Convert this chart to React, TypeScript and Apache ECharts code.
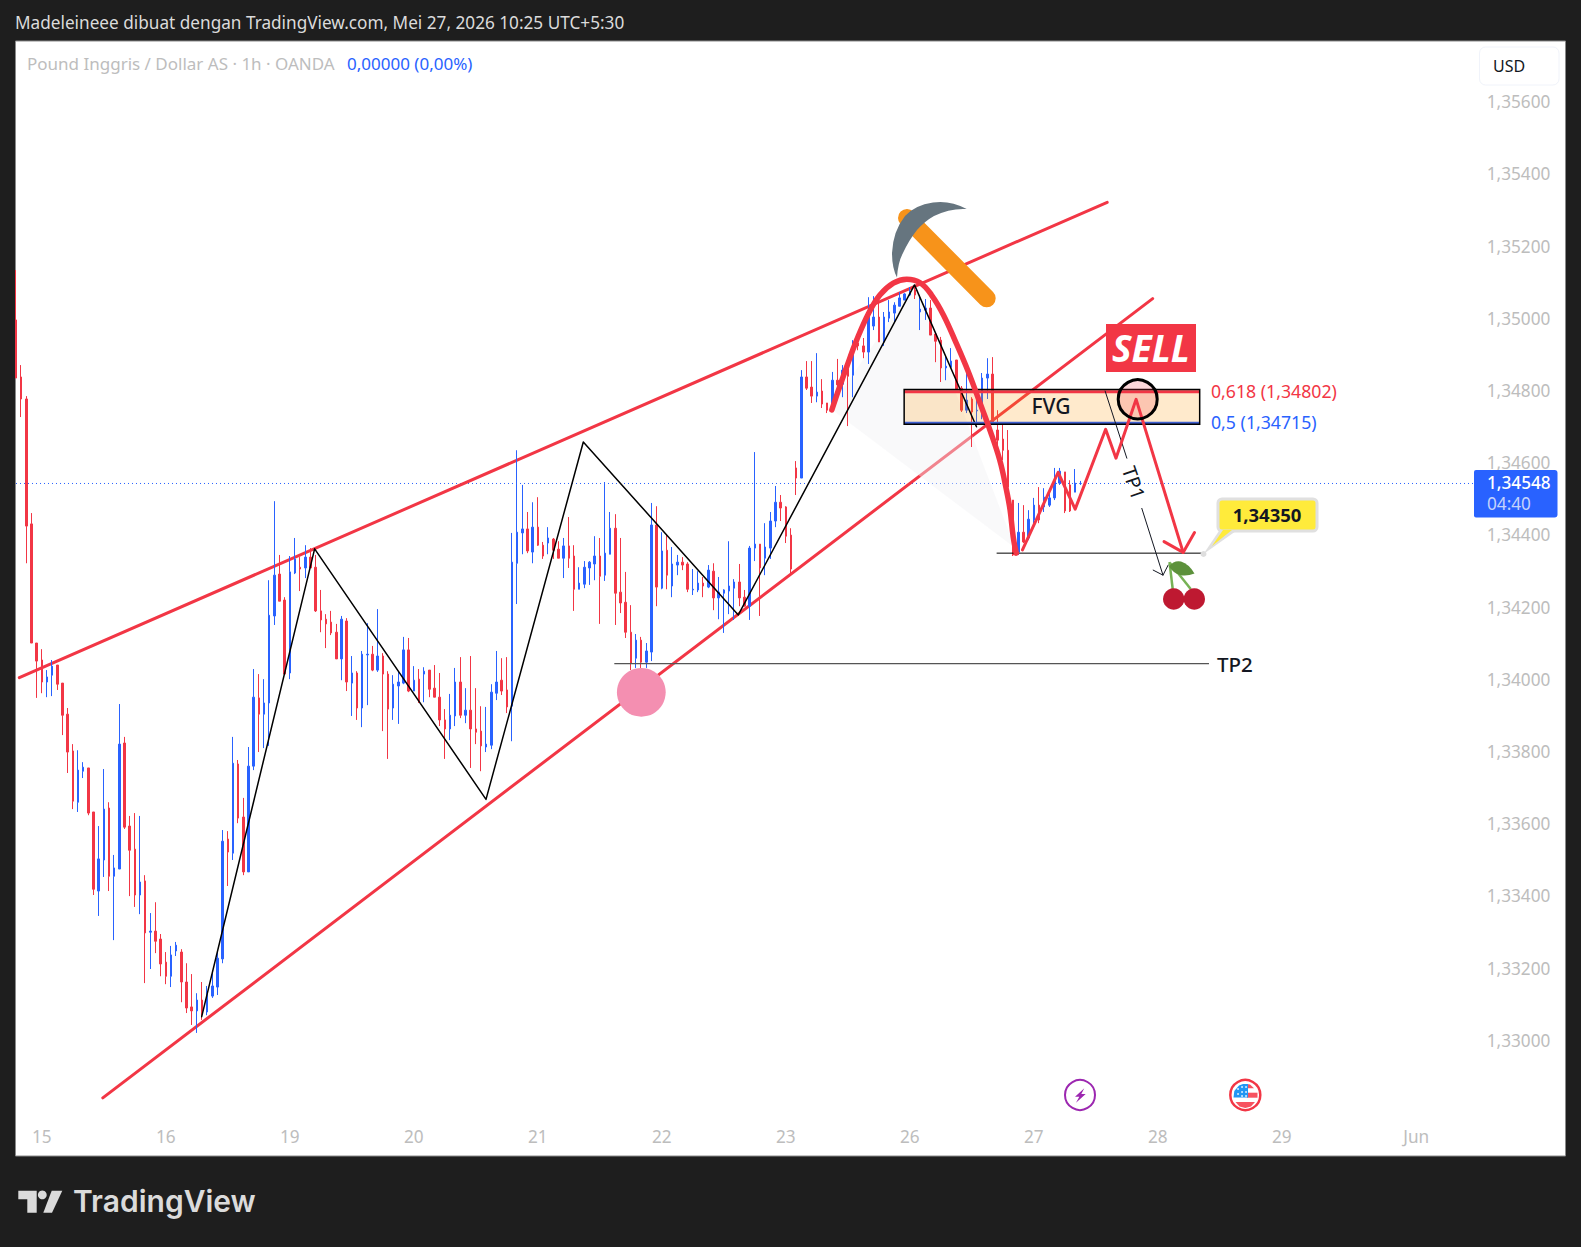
import React, { useEffect, useRef } from "react";
import * as echarts from "echarts";

// Prices are in points (1e-5). Each row: [open, close, low, high]
const POINT = 1e-5;
const session15 = [
  [135001,134840,134840,135139],[134843,134782,134732,134876],[134782,134430,134327,134790],[134436,134106,134106,134466],
  [134106,134056,133954,134106],[134059,133998,133967,134089],[133998,134012,133956,134031],[134017,134042,133959,134059],
  [134045,133992,133976,134045],[133995,133906,133851,133995],[133909,133804,133746,133926],[133807,133668,133646,133826],
  [133665,133754,133638,133809],[133751,133762,133732,133776],[133760,133635,133629,133760],[133638,133424,133408,133638],
  [133419,133508,133350,133599],[133505,133646,133458,133757],[133649,133460,133419,133665],[133460,133483,133283,133519],
  [133480,133826,133480,133937],[133829,133596,133591,133846],[133599,133532,133405,133627],[133535,133408,133375,133635],
  [133408,133444,133355,133627],[133447,133303,133164,133463],[133305,133308,133203,133358],[133308,133280,133247,133388],
  [133286,133217,133183,133300],
];
const session16 = [
  [133222,133183,133161,133250],[133183,133242,133153,133267],[133253,133269,133239,133278],[133250,133167,133111,133258],
  [133167,133095,133081,133219],[133098,133087,133048,133189],[133087,133117,133026,133136],[133117,133084,133062,133167],
  [133084,133134,133075,133156],[133128,133156,133123,133195],[133153,133233,133131,133255],[133231,133557,133219,133588],
  [133563,133527,133433,133585],[133524,133773,133505,133846],[133771,133621,133607,133782],[133624,133472,133463,133677],
  [133472,133765,133472,133818],[133765,133956,133754,134034],[133954,133909,133804,134020],[133909,133940,133815,134006],
  [133940,134183,133821,134280],[134181,134294,134156,134499],[134297,134222,134222,134350],[134225,134020,134020,134233],
];
const session19 = [
  [134023,134303,134006,134347],[134300,134339,134297,134397],[134316,134311,134250,134344],[134314,134344,134286,134377],
  [134344,134314,134314,134369],[134316,134195,134192,134350],[134195,134170,134136,134253],[134172,134159,134092,134186],
  [134164,134134,134128,134195],[134136,134062,134062,134159],[134062,134172,134003,134181],[134167,133998,133973,134175],
  [133995,134023,133904,134070],[134023,133926,133893,134028],[133926,134075,133873,134084],[134073,134075,133934,134161],
  [134075,134031,134028,134098],[134031,134070,134026,134200],[134070,134020,133862,134078],[134020,133923,133785,134028],
  [133926,133992,133893,134017],[133987,133998,133882,134028],[133995,134087,133992,134123],[134087,133973,133970,134120],
];
const session20 = [
  [133973,134003,133973,134042],[134006,133945,133940,134034],[134020,134028,133942,134039],[134031,133978,133956,134031],
  [133981,133956,133956,134045],[133956,133893,133876,134023],[133893,133868,133785,133923],[133868,133906,133837,133965],
  [133904,133998,133876,134037],[133998,133906,133898,134067],[133906,133920,133884,133981],[133920,133868,133760,134070],
  [133868,133859,133826,133981],[133862,133821,133751,133931],[133818,133826,133804,133929],[133823,133970,133812,133992],
  [133967,133998,133948,134084],[134003,133973,133962,134064],[133976,133929,133912,134067],[133931,134330,133834,134411],
  [134327,134413,134214,134640],[134411,134422,134352,134544],[134422,134361,134355,134469],[134358,134427,134327,134496],
];
const session21 = [
  [134427,134377,134375,134510],[134377,134347,134339,134386],[134383,134397,134352,134427],[134394,134363,134339,134397],
  [134366,134341,134341,134388],[134341,134375,134286,134397],[134375,134341,134314,134455],[134347,134255,134195,134377],
  [134255,134272,134255,134316],[134269,134316,134258,134333],[134314,134330,134267,134333],[134325,134347,134280,134402],
  [134347,134291,134159,134397],[134294,134355,134278,134552],[134352,134424,134352,134469],[134424,134244,134156,134463],
  [134247,134217,134189,134397],[134219,134136,134120,134303],[134136,134050,134031,134211],[134064,134114,134037,134131],
  [134114,134053,134037,134123],[134053,134084,134037,134106],[134081,134433,134056,134494],[134433,134261,134208,134485],
];
const session22 = [
  [134258,134361,134255,134413],[134363,134294,134255,134408],[134264,134325,134233,134372],[134322,134330,134294,134350],
  [134330,134322,134308,134344],[134325,134255,134247,134330],[134253,134255,134239,134311],[134253,134272,134247,134305],
  [134272,134264,134233,134289],[134261,134308,134258,134322],[134305,134231,134197,134327],[134231,134247,134172,134289],
  [134244,134253,134134,134255],[134250,134264,134186,134388],[134258,134275,134170,134283],[134275,134231,134208,134325],
  [134233,134208,134208,134253],[134208,134369,134170,134375],[134369,134380,134333,134635],[134380,134314,134181,134380],
  [134341,134372,134294,134438],[134369,134444,134339,134469],[134444,134496,134427,134541],[134496,134480,134444,134516],
];
const session23 = [
  [134483,134402,134383,134485],[134405,134311,134297,134424],[134591,134563,134516,134610],[134563,134843,134563,134862],
  [134843,134812,134807,134887],[134815,134790,134771,134887],[134790,134801,134773,134909],[134804,134768,134757,134837],
  [134771,134751,134743,134771],[134751,134834,134749,134857],[134834,134821,134779,134893],[134823,134862,134787,134876],
  [134865,134845,134707,134881],[134848,134937,134787,134945],[134937,134929,134917,134945],[134929,134912,134895,134951],
  [134912,135009,134879,135064],[134984,135009,134973,135067],[135009,134940,134940,135048],[134940,135009,134929,135023],
  [135006,135023,134995,135056],[135020,135042,134995,135050],[135039,135062,135039,135078],[135056,135073,135056,135075],
];
const session26 = [
  [135070,135081,135067,135092],[135084,135070,135059,135098],[135023,135031,134973,135070],[135028,135034,135001,135059],
  [135034,134959,134959,135056],[134962,134942,134884,134967],[134945,134868,134829,134954],[134868,134873,134834,134901],
  [134870,134887,134870,134923],[134890,134809,134807,134890],[134812,134751,134746,134818],[134751,134779,134743,134854],
  [134782,134746,134649,134787],[134749,134751,134718,134812],[134749,134840,134726,134854],[134840,134851,134782,134895],
  [134851,134718,134718,134898],[134696,134668,134638,134751],[134671,134640,134613,134710],[134640,134538,134538,134696],
  [134502,134350,134347,134502],[134358,134413,134350,134494],[134413,134386,134383,134488],[134397,134449,134391,134474],
];
const session27 = [
  [134447,134488,134438,134508],[134488,134447,134438,134538],[134483,134510,134469,134535],[134488,134508,134483,134524],
  [134508,134557,134502,134591],[134549,134582,134544,134591],[134580,134472,134466,134580],[134544,134472,134469,134557],
  [134524,134549,134524,134588],[134548,134548,134544,134555],
];

// Time axis: label per bar index
const barCount = 284;
const timeTicks: [number, string][] = [
  [5, "15"], [29, "16"], [53, "19"], [77, "20"], [101, "21"], [125, "22"],
  [149, "23"], [173, "26"], [197, "27"], [221, "28"], [245, "29"], [271, "Jun"],
];

const hiddenPriceLabels = [1.328, 1.358];
const lastPrice = 1.34548;
const fib618 = 1.34802;
const fib500 = 1.34715;

// Drawings: [bar index, price]
const upperTrend = [[0.64, 1.3401], [211.2, 1.35327]];
const lowerTrend = [[16.8, 1.32846], [220, 1.3506]];
const blackZigzag = [
  [35.94, 1.33071], [57.8, 1.34367], [90.97, 1.33673], [109.8, 1.34663],
  [139.8, 1.34184], [173.9, 1.35098], [185.9, 1.34705],
];
const domeArc = [
  [157.9, 1.34752], [159.2, 1.34807], [160.8, 1.34872], [162.7, 1.34945], [165, 1.35019],
  [167.2, 1.3507], [169.8, 1.35103], [172.4, 1.35114], [175, 1.35104], [177.2, 1.3507],
  [179.5, 1.35015], [182, 1.34936], [184.3, 1.34858], [186.6, 1.3477], [188.5, 1.34696],
  [190.4, 1.34613], [191.7, 1.3453], [192.4, 1.34475], [193, 1.34401], [193.6, 1.34355],
];
const forecastPath = [
  [194.8, 1.34364], [201.7, 1.34579], [205, 1.34477], [210.9, 1.34698],
  [212.9, 1.34618], [216.8, 1.34781], [225.9, 1.34357],
];
const forecastHead = [[222.2, 1.34387], [225.9, 1.34357], [228.1, 1.34412]];
const targetLine = [[189.8, 1.34355], [229.7, 1.34355]];
const tp2Line = [[115.8, 1.34049], [230.9, 1.34049]];
const tp1Upper = [[210.8, 1.34804], [215, 1.34618]];
const tp1Lower = [[217.9, 1.34479], [222, 1.34294]];
const tp1Head = [[220.1, 1.34308], [222, 1.34294], [223, 1.34322]];
const fibLine618 = [[171.9, fib618], [229.1, fib618]];
const fibLine500 = [[171.9, fib500], [229.1, fib500]];
const lastLine = [[0, lastPrice], [282.2, lastPrice]];
const shadeTriangle = [[173.9, 1.35098], [157.5, 1.34757], [193.4, 1.34369]];
const fvgBox = [[171.9, 1.34808], [229.1, 1.34808], [229.1, 1.34712], [171.9, 1.34712]];

const FONT = '"Noto Sans", sans-serif';

echarts.graphic.registerShape(
  "pickHead",
  echarts.graphic.extendPath(
    "M966.7 209 Q950 200 933 202.5 Q915 205 905 216 Q893 231 892 253 Q892 268 897 277.5 Q898 262 903 253 Q909 240 917 230 Q925 221 934 216 Q950 208 966.7 209 Z",
    {}
  )
);
echarts.graphic.registerShape(
  "cherryLeaf",
  echarts.graphic.extendPath(
    "M1169 566.5 Q1174 560 1181 561.5 Q1189 564 1194.5 573.5 Q1187 576.5 1180 575 Q1173 573 1169 566.5 Z",
    {}
  )
);

const label = (text: string, x: number, y: number, fill: string, size: number, extra: any = {}) => ({
  type: "text",
  z: 60,
  x,
  y,
  style: {
    text,
    fill,
    font: `${extra.weight || "normal"} ${size}px ${extra.family || FONT}`,
    verticalAlign: "middle",
    align: extra.align || "left",
  },
  rotation: extra.rotation || 0,
});

function buildGraphic() {
  const top = 50;
  const els: any[] = [
    { type: "rect", z: -1, shape: { x: 15.5, y: 41, width: 1550, height: 1115 }, style: { fill: "#ffffff", stroke: "#8a8a8a", lineWidth: 1 } },
    label("Madeleineee dibuat dengan TradingView.com, Mei 27, 2026 10:25 UTC+5:30", 15, 22.5, "#dbdbdb", 17.2),
    label("Pound Inggris / Dollar AS · 1h · OANDA", 27, 63.5, "#bdbdbd", 17),
    label("0,00000 (0,00%)", 347, 63.5, "#2962ff", 17),
    { type: "rect", z: top, shape: { x: 1479.5, y: 47, width: 79.5, height: 38, r: 6 }, style: { fill: "#ffffff", stroke: "#f0f3fa", lineWidth: 1 } },
    label("USD", 1493, 65.5, "#131722", 16),
    // last price tag
    { type: "rect", z: top, shape: { x: 1474, y: 470, width: 83.5, height: 47.5, r: [2, 3, 3, 2] }, style: { fill: "#2962ff" } },
    label("1,34548", 1487, 482.5, "#ffffff", 17.2, { weight: "500" }),
    label("04:40", 1487, 503, "#c4d2fb", 17.2),
    // pink marker
    { type: "circle", z: top, shape: { cx: 641.3, cy: 692.3, r: 24.4 }, style: { fill: "#f48fb1" } },
    // SELL
    { type: "rect", z: top, shape: { x: 1106, y: 324, width: 90, height: 48 }, style: { fill: "#f23645" } },
    label("SELL", 1151, 347, "#ffffff", 37, { align: "center", weight: "italic bold" }),
    // FVG
    label("FVG", 1051, 406, "#131722", 21, { align: "center", weight: "500" }),
    // ring
    { type: "circle", z: top, shape: { cx: 1137.7, cy: 399.3, r: 19.5 }, style: { fill: "rgba(242,54,69,0.2)", stroke: "#000000", lineWidth: 3 } },
    label("0,618 (1,34802)", 1211, 390.5, "#f23645", 17.7),
    label("0,5 (1,34715)", 1211, 421.5, "#2962ff", 17.7),
    label("TP2", 1217, 663.5, "#131722", 20.5, { weight: "500" }),
    label("TP1", 1134, 482.7, "#131722", 19.5, { align: "center", rotation: -1.24 }),
    // callout
    { type: "circle", z: top, shape: { cx: 1203.5, cy: 554, r: 3 }, style: { fill: "#dedede" } },
    { type: "polygon", z: top, shape: { points: [[1219, 531], [1236, 531], [1203.5, 554]] }, style: { fill: "#e0e0e0" } },
    { type: "rect", z: top, shape: { x: 1218, y: 499, width: 99, height: 32, r: 4 }, style: { fill: "#ffeb3b", stroke: "#e0e0e0", lineWidth: 3 } },
    { type: "polygon", z: top, shape: { points: [[1223, 530], [1232, 530], [1212, 546]] }, style: { fill: "#ffeb3b" } },
    label("1,34350", 1267, 514.5, "#131722", 18.5, { align: "center", weight: "bold" }),
    // pickaxe
    { type: "line", z: top, shape: { x1: 907, y1: 218, x2: 986.7, y2: 298.3 }, style: { stroke: "#f7931a", lineWidth: 18, lineCap: "round" } },
    { type: "pickHead", z: top, style: { fill: "#66757f" } },
    // cherries
    { type: "line", z: top, shape: { x1: 1169.5, y1: 562, x2: 1172.7, y2: 589 }, style: { stroke: "#77b255", lineWidth: 2.5 } },
    { type: "line", z: top, shape: { x1: 1170, y1: 563, x2: 1190.7, y2: 589 }, style: { stroke: "#77b255", lineWidth: 2.5 } },
    { type: "cherryLeaf", z: top, style: { fill: "#5c913b" } },
    { type: "circle", z: top, shape: { cx: 1173.7, cy: 599, r: 10.7 }, style: { fill: "#be1931" } },
    { type: "circle", z: top, shape: { cx: 1194.3, cy: 599, r: 10.7 }, style: { fill: "#be1931" } },
    // event icons
    { type: "circle", z: top, shape: { cx: 1080, cy: 1095, r: 15 }, style: { fill: "#ffffff", stroke: "#9c27b0", lineWidth: 2 } },
    { type: "polygon", z: top, shape: { points: [[1084.3, 1088.3], [1075, 1096.7], [1079.3, 1096.7], [1076, 1102.7], [1085.7, 1094], [1081.3, 1094]] }, style: { fill: "#9c27b0" } },
    { type: "circle", z: top, shape: { cx: 1245.3, cy: 1095, r: 15 }, style: { fill: "#ffffff", stroke: "#f23645", lineWidth: 2.5 } },
    { type: "polygon", z: top, shape: { points: [[1247, 1084], [1250, 1084.5], [1254, 1088.3], [1247, 1088.3]] }, style: { fill: "#f7525f" } },
    { type: "rect", z: top, shape: { x: 1247, y: 1092.7, width: 10.5, height: 5 }, style: { fill: "#f7525f" } },
    { type: "polygon", z: top, shape: { points: [[1235.5, 1102], [1255, 1102], [1251, 1106.5], [1245.3, 1108], [1239.5, 1106.5]] }, style: { fill: "#f7525f" } },
    { type: "polygon", z: top, shape: { points: [[1248, 1084], [1248, 1097.5], [1233.5, 1097.5], [1234.3, 1091], [1239, 1085.5], [1243, 1084]] }, style: { fill: "#2196f3" } },
    ...[[1238, 1089], [1242, 1087], [1246, 1087], [1238, 1094], [1242, 1092], [1246, 1092], [1242, 1096], [1246, 1096]].map(([cx, cy]) => ({
      type: "circle", z: top + 1, shape: { cx, cy, r: 0.8 }, style: { fill: "#ffffff" },
    })),
    // footer logo
    { type: "polygon", z: top, shape: { points: [[18.3, 1190.7], [36.7, 1190.7], [36.7, 1212.7], [27.3, 1212.7], [27.3, 1199.3], [18.3, 1199.3]] }, style: { fill: "#dbdbdb" } },
    { type: "circle", z: top, shape: { cx: 42.3, cy: 1194.9, r: 4.4 }, style: { fill: "#dbdbdb" } },
    { type: "polygon", z: top, shape: { points: [[51.7, 1190.7], [62.3, 1190.7], [52, 1212.7], [43.3, 1212.7]] }, style: { fill: "#dbdbdb" } },
    label("TradingView", 73, 1201, "#dbdbdb", 30, { weight: "600", family: "Inter, sans-serif" }),
  ];
  return els;
}

const lineSeries = (data: number[][], color: string, width: number, z: number, extra: any = {}) => ({
  type: "line",
  xAxisIndex: 1,
  yAxisIndex: 0,
  data,
  z,
  silent: true,
  clip: false,
  showSymbol: false,
  symbol: "none",
  animation: false,
  lineStyle: { color, width, cap: "round", join: "round", ...(extra.lineStyle || {}) },
  smooth: extra.smooth || false,
});

const polygonSeries = (points: number[][], style: any, z: number) => ({
  type: "custom",
  xAxisIndex: 1,
  yAxisIndex: 0,
  z,
  silent: true,
  clip: false,
  data: [[points[0][0], points[0][1]]],
  renderItem: (_p: any, api: any) => ({
    type: "polygon",
    shape: { points: points.map((pt) => api.coord(pt)) },
    style,
  }),
});

export default function App() {
  const ref = useRef<HTMLDivElement>(null);
  useEffect(() => {
    document.body.style.margin = "0";
    const chart = echarts.init(ref.current!, null, { renderer: "svg" });
    const rows = [
      ...session15, ...session16, ...session19, ...session20, ...session21,
      ...session22, ...session23, ...session26, ...session27,
    ];
    const categories = Array.from({ length: barCount }, (_, i) => {
      const t = timeTicks.find((d) => d[0] === i);
      return t ? t[1] : "";
    });
    chart.setOption({
      animation: false,
      backgroundColor: "#1e1e1e",
      graphic: { elements: buildGraphic() },
      grid: { left: 13.42, top: 31.5, width: 1467.33, height: 1083, containLabel: false },
      xAxis: [
        {
          type: "category",
          data: categories,
          boundaryGap: true,
          axisLine: { show: false },
          axisTick: { show: false },
          splitLine: { show: false },
          axisLabel: {
            show: true,
            interval: (i: number) => categories[i] !== "",
            color: "#bdbdbd",
            fontFamily: FONT,
            fontSize: 17.2,
            margin: 13,
            hideOverlap: false,
          },
        },
        { type: "value", show: false, min: -0.5, max: barCount - 0.5, splitLine: { show: false } },
      ],
      yAxis: {
        type: "value",
        position: "right",
        min: 1.328,
        max: 1.358,
        interval: 0.002,
        axisLine: { show: false },
        axisTick: { show: false },
        splitLine: { show: false },
        axisLabel: {
          color: "#bdbdbd",
          fontFamily: FONT,
          fontSize: 17.2,
          margin: 6,
          verticalAlign: "bottom",
          lineHeight: 4,
          formatter: (v: number) =>
            hiddenPriceLabels.some((h) => Math.abs(h - v) < 1e-6) ? "" : v.toFixed(5).replace(".", ","),
        },
      },
      series: [
        lineSeries(lastLine, "#2962ff", 1, 1, { lineStyle: { type: [1, 3], cap: "butt" } }),
        lineSeries(upperTrend, "#f23645", 3, 2),
        lineSeries(lowerTrend, "#f23645", 3, 2),
        polygonSeries(shadeTriangle, { fill: "rgba(240,240,242,0.42)" }, 3),
        {
          type: "candlestick",
          xAxisIndex: 0,
          yAxisIndex: 0,
          z: 4,
          silent: true,
          barWidth: 2,
          data: rows.map((r) => r.map((v) => v * POINT)),
          itemStyle: {
            color: "#2962ff",
            color0: "#f23645",
            borderColor: "#2962ff",
            borderColor0: "#f23645",
            borderColorDoji: "#2962ff",
            borderWidth: 1,
          },
        },
        lineSeries(blackZigzag, "#000000", 1.5, 5),
        polygonSeries(fvgBox, { fill: "rgba(255,152,0,0.2)" }, 5),
        lineSeries(fibLine618, "#f23645", 3, 6, { lineStyle: { cap: "butt" } }),
        lineSeries(fibLine500, "#3f5fd0", 3, 6, { lineStyle: { cap: "butt" } }),
        polygonSeries(fvgBox, { fill: "none", stroke: "#000000", lineWidth: 1.5 }, 7),
        lineSeries(targetLine, "#000000", 1, 7, { lineStyle: { cap: "butt" } }),
        lineSeries(tp2Line, "#555555", 1.4, 7, { lineStyle: { cap: "butt" } }),
        lineSeries(tp1Upper, "#131722", 1, 7),
        lineSeries(tp1Lower, "#131722", 1, 7),
        lineSeries(tp1Head, "#131722", 1, 7),
        lineSeries(domeArc, "#f23645", 5.5, 8, { smooth: 0.4 }),
        lineSeries(forecastPath, "#f23645", 3, 8),
        lineSeries(forecastHead, "#f23645", 3, 8),
      ],
    });
    return () => chart.dispose();
  }, []);
  return <div ref={ref} style={{ position: "absolute", left: 0, top: 0, width: 1581, height: 1247 }} />;
}
